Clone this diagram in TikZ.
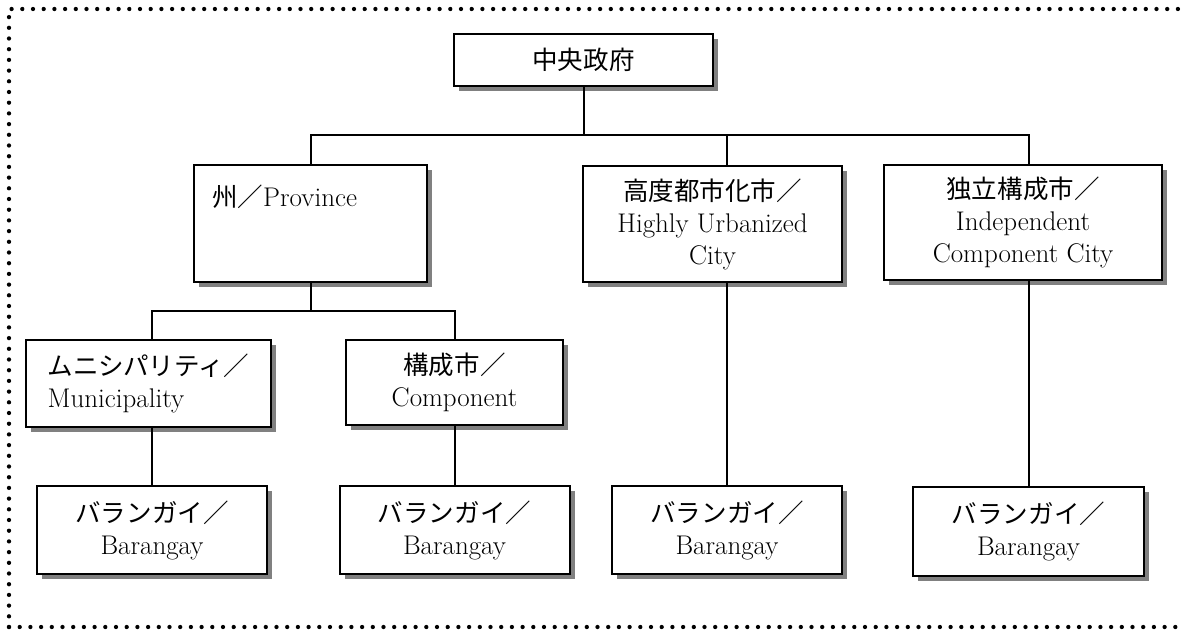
\documentclass[tikz,border=0pt]{standalone}
\usepackage{fontspec}
\newfontfamily\jp[Scale=0.945]{Noto Sans CJK JP}
\usetikzlibrary{shadows}
\begin{document}
\begin{tikzpicture}[x=1pt,y=-1pt,
  box/.style={draw, line width=2pt, fill=white, inner sep=0pt, align=center,
    font=\fontsize{27}{32}\selectfont,
    drop shadow={shadow xshift=5pt, shadow yshift=-5pt, fill=black!50, opacity=1}},
  conn/.style={line width=2pt},
  dotborder/.style={line width=4.3pt, line cap=round, dash pattern=on 0pt off 10.7pt}]
\useasboundingbox (0,0) rectangle (1181,635);
\draw[dotborder] (9,627) -- (9,9) -- (1220,9);
\draw[dotborder] (9,627) -- (1220,627);
% top
\node[box, minimum width=259pt, minimum height=52pt] (gov) at (583.5,60) {{\jp 中央政府}};
% level 2
\node[box, minimum width=233pt, minimum height=117pt] (prov) at (310.5,223.5) {};
\node[font=\fontsize{27}{32}\selectfont, anchor=west, inner sep=0pt] (provt) at (prov.north west) [xshift=19pt, yshift=-33pt] {{\jp 州／}Province};
\node[box, minimum width=259pt, minimum height=116pt] (huc) at (712.5,224) {{\jp 高度都市化市／}\\Highly Urbanized\\City};
\node[box, minimum width=278pt, minimum height=115pt] (icc) at (1023,222.5) {{\jp 独立構成市／}\\Independent\\Component City};
% level 3
\node[box, align=left, minimum width=245pt, minimum height=87pt] (mun) at (148.5,383.5) {{\jp ムニシパリティ／}\\Municipality};
\node[box, minimum width=217pt, minimum height=85pt] (comp) at (454.5,382.5) {{\jp 構成市／}\\Component};
% barangays
\node[box, minimum width=230pt, minimum height=88pt] (b1) at (152,530) {{\jp バランガイ／}\\Barangay};
\node[box, minimum width=230pt, minimum height=88pt] (b2) at (454.5,530) {{\jp バランガイ／}\\Barangay};
\node[box, minimum width=230pt, minimum height=88pt] (b3) at (727,530) {{\jp バランガイ／}\\Barangay};
\node[box, minimum width=231pt, minimum height=89pt] (b4) at (1028.5,531) {{\jp バランガイ／}\\Barangay};
% buses
\coordinate (bus) at (583.5,135);
\coordinate (bus2) at (310.5,311);
\draw[conn] (gov.south) -- (bus);
\draw[conn] (prov.north) -- (prov.north |- bus) -- (b4.north |- bus) -- (b4.north |- icc.north);
\draw[conn] (b3.north |- bus) -- (b3.north |- huc.north);
\draw[conn] (prov.south) -- (bus2);
\draw[conn] (b1.north |- mun.north) -- (b1.north |- bus2) -- (comp.north |- bus2) -- (comp.north);
\draw[conn] (b1.north |- mun.south) -- (b1.north);
\draw[conn] (comp.south) -- (b2.north);
\draw[conn] (b3.north |- huc.south) -- (b3.north);
\draw[conn] (b4.north |- icc.south) -- (b4.north);
\end{tikzpicture}
\end{document}
